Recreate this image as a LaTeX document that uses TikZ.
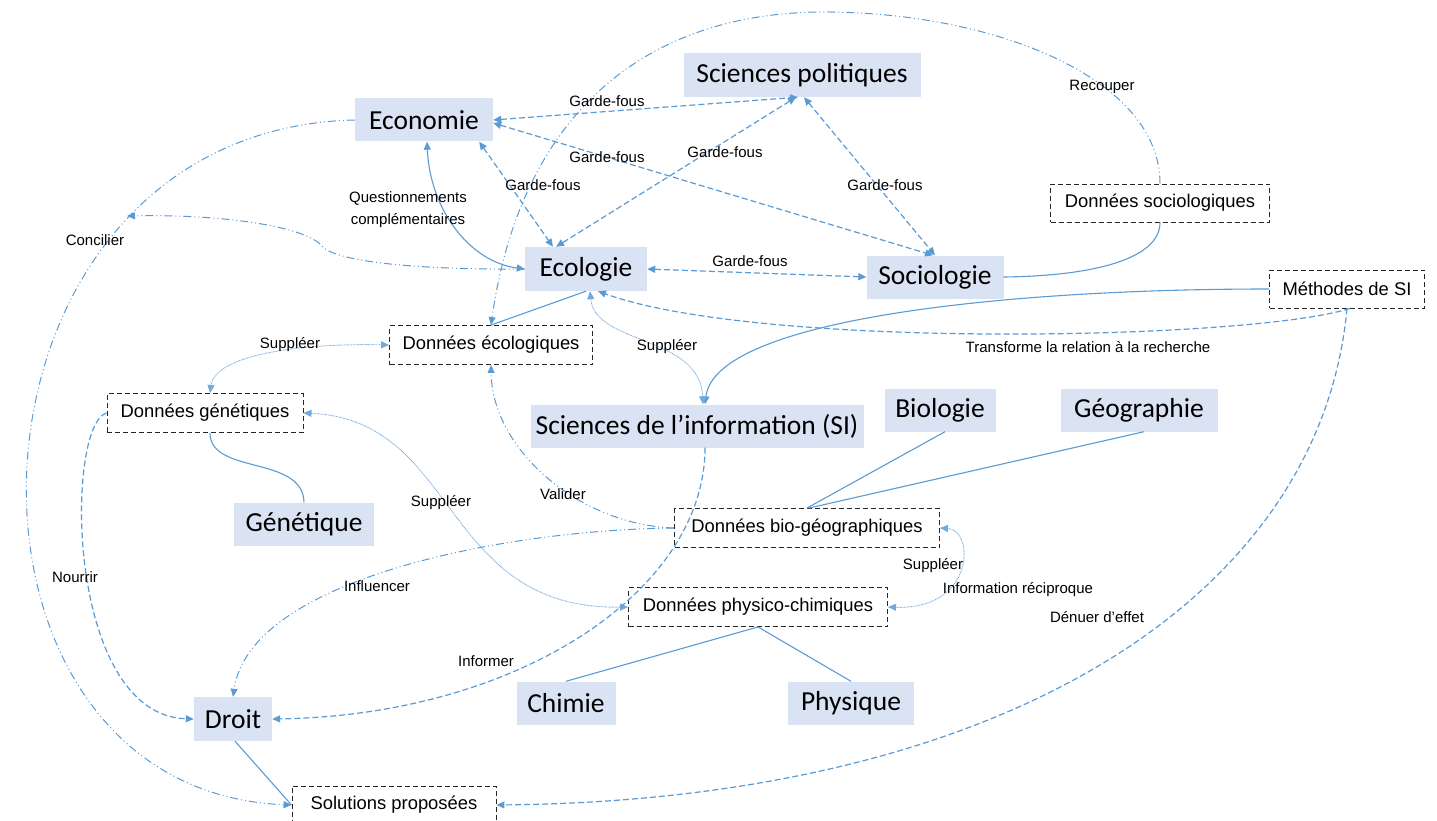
\documentclass[tikz,border=0pt]{standalone}
\usepackage{fontspec}
\setmainfont{Liberation Sans}
\newfontfamily\boxfont{Carlito}
\usetikzlibrary{arrows.meta}
\definecolor{lnblue}{HTML}{5B9BD5}
\definecolor{boxfill}{HTML}{DAE3F3}
\begin{document}
\begin{tikzpicture}[x=1pt,y=-1pt,
 disc/.style={fill=boxfill, draw=none, inner sep=0pt, font=\boxfont\fontsize{27.5}{31}\selectfont, text=black},
 data/.style={draw=black!85, dash pattern=on 5pt off 3pt, line width=0.9pt, fill=white, inner sep=0pt, font=\fontsize{18.4}{21}\selectfont},
 lbl/.style={font=\fontsize{15}{22}\selectfont, inner sep=1pt},
 conn/.style={draw=lnblue, line width=1.1pt},
 solidc/.style={conn},
 dashc/.style={conn, line width=1.2pt, dash pattern=on 6pt off 3pt},
 ddc/.style={conn, line width=1pt, dash pattern=on 8pt off 3pt on 1pt off 3pt on 1pt off 3pt},
 dotc/.style={conn, draw=lnblue!85, line width=0.9pt, dash pattern=on 0.7pt off 0.7pt},
 tip/.style={-{Triangle[length=8pt,width=7pt]}},
 tips/.style={{Triangle[length=8pt,width=7pt]}-{Triangle[length=8pt,width=7pt]}},
]
\useasboundingbox (0,0) rectangle (1437,821);
\clip (0,0) rectangle (1437,821);
\fill[white] (0,0) rectangle (1437,821);

% discipline boxes
\node[disc, minimum width=138pt, minimum height=43pt] (eco) at (424,120) {Economie};
\node[disc, minimum width=237pt, minimum height=44pt] (sp) at (802,75) {Sciences politiques};
\node[disc, minimum width=122pt, minimum height=44pt] (ecol) at (586,269) {Ecologie};
\node[disc, minimum width=137pt, minimum height=43pt] (soc) at (935,277) {Sociologie};
\node[disc, minimum width=333pt, minimum height=43pt] (si) at (697,426) {Sciences de l’information (SI)};
\node[disc, minimum width=111pt, minimum height=43pt] (bio) at (940,410) {Biologie};
\node[disc, minimum width=157pt, minimum height=43pt] (geo) at (1139,410) {Géographie};
\node[disc, minimum width=140pt, minimum height=43pt] (gen) at (304,524) {Génétique};
\node[disc, minimum width=99pt, minimum height=43pt] (chi) at (566,703) {Chimie};
\node[disc, minimum width=126pt, minimum height=43pt] (phy) at (851,703) {Physique};
\node[disc, minimum width=78pt, minimum height=44pt] (droit) at (233,719) {Droit};

% data boxes
\node[data, minimum width=219pt, minimum height=38pt] (dsoc) at (1160,203) {Données sociologiques};
\node[data, minimum width=155pt, minimum height=38pt] (msi) at (1347,289) {Méthodes de SI};
\node[data, minimum width=203pt, minimum height=39pt] (decol) at (491,345) {Données écologiques};
\node[data, minimum width=196pt, minimum height=39pt] (dgen) at (205,413) {Données génétiques};
\node[data, minimum width=265pt, minimum height=39pt] (dbio) at (807,528) {Données bio-géographiques};
\node[data, minimum width=259pt, minimum height=39pt] (dphys) at (758,607) {Données physico-chimiques};
\node[data, minimum width=204pt, minimum height=38pt] (sol) at (394,805) {Solutions proposées};

% Garde-fous
\draw[dashc,tips] (eco.east) -- ([xshift=-4pt]sp.south);
\draw[dashc,tips] ([yshift=-3pt]eco.east) -- ([xshift=-2pt]soc.north);
\draw[dashc,tips] ([xshift=-14pt]eco.south east) -- ([xshift=-33pt]ecol.north);
\draw[dashc,tips] ([xshift=-6pt]sp.south) -- ([xshift=-30pt]ecol.north);
\draw[dashc,tips] ([xshift=2pt]sp.south) -- (soc.north);
\draw[dashc,tips] (ecol.east) -- (soc.west);

% Questionnements
\draw[solidc,tips] ([xshift=3pt]eco.south) .. controls (430,210) and (470,262) .. (ecol.west);

% Concilier
\coordinate (conc) at (127,216);
\draw[ddc,tip] (ecol.west) .. controls (420,270) and (335,262) .. (322,246) .. controls (305,226) and (220,214) .. (conc);
\draw[ddc,tip] (eco.west) .. controls (-60,130) and (-80,790) .. (sol.west);

% Recouper
\draw[ddc,tip] (dsoc.north) .. controls (1160,80) and (1000,14) .. (830,12) .. controls (640,10) and (520,120) .. (decol.north);
\draw[solidc] (soc.east) .. controls (1090,276) and (1160,260) .. (dsoc.south);

% Methodes de SI
\draw[solidc,tip] (msi.west) .. controls (1000,289) and (715,320) .. ([xshift=8pt]si.north);
\draw[dashc,tip] ([xshift=3pt]msi.south) .. controls (1250,340) and (760,350) .. ([xshift=12pt]ecol.south);
\draw[dashc,tip] (msi.south) .. controls (1320,600) and (1000,800) .. (sol.east);

% Ecologie links
\draw[solidc] (ecol.south) -- (decol.north);
\draw[dotc,tips] ([xshift=4pt]ecol.south) .. controls (595,345) and (700,335) .. ([xshift=6pt]si.north);
\draw[dotc,tips] (decol.west) .. controls (300,343) and (215,355) .. ([xshift=5pt]dgen.north);

% genetique
\draw[solidc] ([xshift=5pt]dgen.south) .. controls (210,475) and (303,455) .. (gen.north);
\draw[dashc,tip] (dgen.west) .. controls (65,425) and (65,715) .. (droit.west);
\draw[dotc,tips] (dgen.east) .. controls (460,420) and (440,610) .. (dphys.west);

% bio-geo
\draw[ddc,tip] (dbio.west) .. controls (580,525) and (492,450) .. (decol.south);
\draw[ddc,tip] (dbio.west) .. controls (500,530) and (250,580) .. (droit.north);
\draw[dashc,tip] ([xshift=8pt]si.south) .. controls (705,590) and (520,715) .. (droit.east);
\draw[solidc] ([xshift=5pt]bio.south) -- (dbio.north);
\draw[solidc] ([xshift=5pt]geo.south) -- ([xshift=2pt]dbio.north);
\draw[dotc,tips] (dbio.east) .. controls (975,530) and (975,610) .. (dphys.east);
\draw[solidc] (dphys.south) -- (chi.north);
\draw[solidc] (dphys.south) -- (phy.north);
\draw[solidc] ([xshift=2pt]droit.south) -- (sol.west);

% labels
\node[lbl] (g1) at (607,101) {Garde-fous};
\node[lbl] (g2) at (607,157) {Garde-fous};
\node[lbl] (g3) at (543,185) {Garde-fous};
\node[lbl] (g4) at (725,152) {Garde-fous};
\node[lbl] (g5) at (885,185) {Garde-fous};
\node[lbl] (g6) at (750,261) {Garde-fous};
\node[lbl, align=center] (lq) at (408,210) {Questionnements\\complémentaires};
\node[lbl] (lconc) at (95,240) {Concilier};
\node[lbl] (lrec) at (1102,87) {Recouper};
\node[lbl] (ltr) at (1088,347) {Transforme la relation à la recherche};
\node[lbl] (ls1) at (667,347) {Suppléer};
\node[lbl] (ls2) at (290,345) {Suppléer};
\node[lbl] (ls3) at (441,503) {Suppléer};
\node[lbl] (lval) at (563,494) {Valider};
\node[lbl] (linf) at (377,586) {Influencer};
\node[lbl] (lnour) at (75,577) {Nourrir};
\node[lbl] (linfo) at (486,661) {Informer};
\node[lbl] (ls4) at (933,566) {Suppléer};
\node[lbl] (lir) at (1018,590) {Information réciproque};
\node[lbl] (lden) at (1097,617) {Dénuer d’effet};
\end{tikzpicture}
\end{document}
